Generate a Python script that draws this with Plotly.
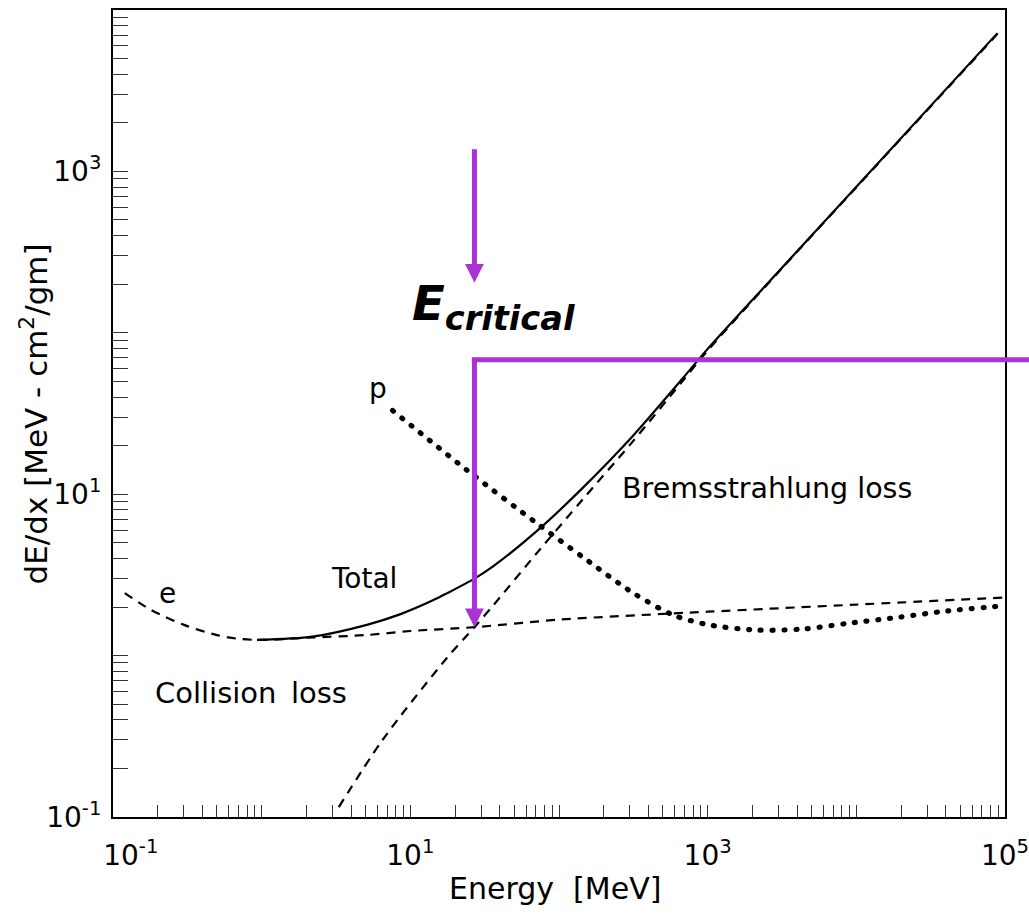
import math
import plotly.graph_objects as go

# ---- energy-loss curves for electrons (and protons) in matter, log-log ----
collision_E = [0.12, 0.18, 0.3, 0.5, 0.7, 1.0, 2.0, 5.0, 10.0, 27.0, 100.0, 1000.0, 1.0e4, 1.0e5]
collision_dEdx = [2.44, 1.92, 1.55, 1.34, 1.27, 1.25, 1.29, 1.34, 1.42, 1.50, 1.67, 1.87, 2.07, 2.29]

brems_E = [3.3, 6.5, 17.6, 27.0, 36.0, 74.0, 145.0, 316.0, 676.0, 1000.0, 3162.0, 9.0e4]
brems_dEdx = [0.115, 0.30, 0.966, 1.50, 2.04, 4.52, 9.33, 21.4, 50.1, 77.6, 251.0, 7185.0]

total_E = [0.93, 2.2, 5.1, 8.5, 14.2, 17.6, 27.0, 36.0, 74.0, 145.0, 316.0, 676.0, 1000.0, 3162.0, 8.9e4]
total_dEdx = [1.25, 1.31, 1.55, 1.80, 2.20, 2.43, 3.0, 3.57, 6.12, 10.98, 23.1, 51.9, 79.5, 253.0, 7190.0]

proton_E = [7.6, 24.0, 71.0, 145.0, 316.0, 590.0, 1020.0, 2140.0, 4370.0, 9040.0, 1.95e4, 4.07e4, 9.55e4]
proton_dEdx = [33.0, 14.1, 6.6, 4.07, 2.44, 1.78, 1.55, 1.44, 1.46, 1.59, 1.73, 1.89, 2.03]

# critical energy marker
E_CRIT = 27.0          # MeV
DEDX_CRIT = 1.5        # collision == bremsstrahlung here
LEVEL_LINE = 68.0      # height of the horizontal bar
TOP_ARROW = (1400.0, 204.0)   # tail / tip of the upper arrow (dE/dx units)

x_labels = {0.1: "\u00a0\u00a0\u00a0\u00a010<sup>-1</sup>", 10.0: "10<sup>1</sup>",
            1000.0: "10<sup>3</sup>", 1.0e5: "10<sup>5</sup>"}
y_labels = {0.1: "10<sup>-1</sup>", 10.0: "10<sup>1</sup>", 1000.0: "10<sup>3</sup>"}

PURPLE = "#A933D6"
FONT = "DejaVu Sans"


def log_ticks(lo, hi):
    vals = []
    for k in range(lo, hi):
        for m in range(1, 10):
            vals.append(float(f"{m}e{k}"))
    vals.append(float(f"1e{hi}"))
    return vals


def tick_text(vals, labels):
    out = []
    for v in vals:
        lab = ""
        for key, txt in labels.items():
            if abs(math.log10(v) - math.log10(key)) < 1e-9:
                lab = txt
        out.append(lab)
    return out


x_tv = log_ticks(-1, 5)
y_tv = log_ticks(-1, 4)

fig = go.Figure()

dash_style = dict(color="black", width=2.2, dash="9px,7px")
fig.add_trace(go.Scatter(x=collision_E, y=collision_dEdx, mode="lines",
                         line=dict(shape="spline", smoothing=0.8, **dash_style)))
fig.add_trace(go.Scatter(x=brems_E, y=brems_dEdx, mode="lines",
                         line=dict(shape="spline", smoothing=0.8, **dash_style)))
fig.add_trace(go.Scatter(x=total_E, y=total_dEdx, mode="lines",
                         line=dict(color="black", width=2.2, shape="spline", smoothing=0.8)))
fig.add_trace(go.Scatter(x=proton_E, y=proton_dEdx, mode="lines",
                         line=dict(color="black", width=5.2, dash="1px,10.8px",
                                   shape="spline", smoothing=0.8)))

axis_common = dict(type="log", showline=True, linewidth=2, linecolor="black", mirror=True,
                   ticks="inside", tickwidth=1, tickcolor="#333333", showgrid=False,
                   zeroline=False, tickmode="array", ticklabeloverflow="allow",
                   automargin=False,
                   tickfont=dict(family=FONT, size=28, color="black"))

fig.update_xaxes(range=[-1, 5], tickvals=x_tv, ticktext=tick_text(x_tv, x_labels),
                 ticklen=12, ticklabelstandoff=12, **axis_common)
fig.update_yaxes(range=[-1, 4], tickvals=y_tv, ticktext=tick_text(y_tv, y_labels),
                 ticklen=15, ticklabelstandoff=4, **axis_common)

# axis titles
fig.add_annotation(xref="paper", yref="paper", x=0.496, y=-0.088, text="Energy  [MeV]",
                   showarrow=False, xanchor="center", yanchor="middle",
                   font=dict(family=FONT, size=30, color="black"))
fig.add_annotation(xref="paper", yref="paper", x=-0.0886, y=0.5,
                   text="dE/dx [MeV - cm<sup>2</sup>/gm]", textangle=-90,
                   showarrow=False, xanchor="center", yanchor="middle",
                   font=dict(family=FONT, size=31, color="black"))

# curve labels (positions in log10 units, as annotations on log axes expect)
labels = [
    ("e", 0.234, 2.44, 28),
    ("Total", 4.88, 2.99, 28),
    ("Collision\u2002loss", 0.85, 0.586, 29),
    ("p", 6.05, 45.5, 28),
    ("Bremsstrahlung loss", 2500.0, 10.9, 28.5),
]
for txt, ex, yv, fs in labels:
    fig.add_annotation(x=math.log10(ex), y=math.log10(yv), text=txt, showarrow=False,
                       xanchor="center", yanchor="middle",
                       font=dict(family=FONT, size=fs, color="black"))

# E_critical label
fig.add_annotation(x=math.log10(36.5), y=math.log10(146.0),
                   text="<b><i>E<sub>critical</sub></i></b>", showarrow=False,
                   xanchor="center", yanchor="middle",
                   font=dict(family=FONT, size=48, color="black"))

# upper arrow pointing at E_critical
fig.add_annotation(x=math.log10(E_CRIT), y=math.log10(TOP_ARROW[1]),
                   ax=math.log10(E_CRIT), ay=math.log10(TOP_ARROW[0]),
                   axref="x", ayref="y", text="", showarrow=True,
                   arrowhead=2, arrowsize=0.75, arrowwidth=5, arrowcolor=PURPLE)

# vertical arrow down to the crossing point
fig.add_annotation(x=math.log10(E_CRIT), y=math.log10(DEDX_CRIT),
                   ax=math.log10(E_CRIT), ay=math.log10(LEVEL_LINE),
                   axref="x", ayref="y", text="", showarrow=True,
                   arrowhead=2, arrowsize=0.75, arrowwidth=5, arrowcolor=PURPLE)

# horizontal bar running out to the right edge
x_start = (math.log10(E_CRIT) + 1) / 6.0
fig.add_shape(type="line", xref="paper", yref="y", x0=x_start - 0.003, x1=1.03,
              y0=LEVEL_LINE, y1=LEVEL_LINE, line=dict(color=PURPLE, width=5))

fig.update_layout(width=1029, height=921, margin=dict(l=113, r=24, t=10, b=104),
                  paper_bgcolor="white", plot_bgcolor="white", showlegend=False,
                  font=dict(family=FONT, size=28, color="black"))

# round the ends of the proton curve's dashes so they read as dots
round_dots = """
var gd = document.getElementById('{plot_id}');
var traces = gd.querySelectorAll('.scatterlayer .trace');
if (traces.length > 3) {
  traces[3].querySelectorAll('path.js-line').forEach(function (p) {
    p.style.strokeLinecap = 'round';
  });
}
"""

fig.write_html("out.html", post_script=round_dots)
